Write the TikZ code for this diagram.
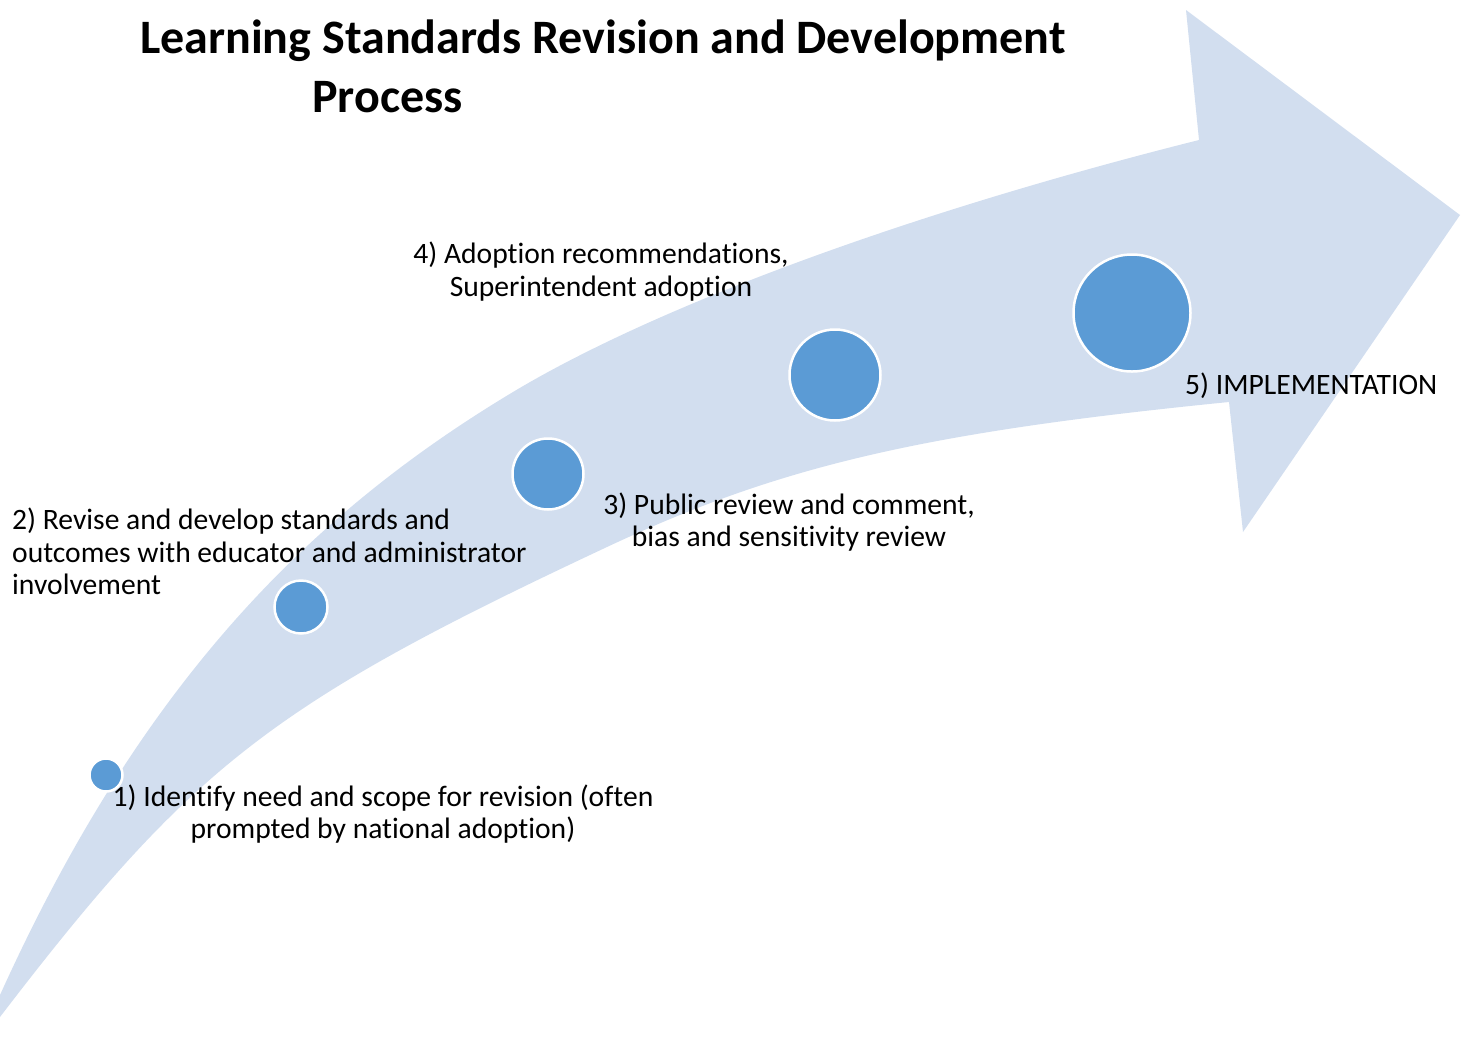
\documentclass[tikz,border=0pt]{standalone}
\usepackage{fontspec}
\setmainfont[Ligatures=NoCommon]{Carlito}
\definecolor{arrowfill}{RGB}{210,222,239}
\definecolor{dotblue}{RGB}{91,155,213}
\begin{document}
\begin{tikzpicture}[x=1pt,y=-1pt,
  dot/.style={circle,fill=dotblue,draw=white,line width=2.5pt,inner sep=0pt},
  lbl/.style={inner sep=0pt,font=\fontsize{29.6}{32.5}\selectfont},
  ttl/.style={inner sep=0pt,font=\fontsize{48}{59}\selectfont\bfseries}]
\useasboundingbox (0,0) rectangle (1468,1053);
\clip (0,0) rectangle (1468,1053);
% big curved arrow
\fill[arrowfill]
  (-10,1030) -- (0,1017)
  .. controls (193,765) and (272,704) .. (607,547)
  .. controls (779.5,466) and (922,432.6) .. (1229,402)
  -- (1243,532) -- (1460,215) -- (1186,10) -- (1199,140)
  .. controls (912,212) and (658,305) .. (513,392)
  .. controls (303,518) and (138,690) .. (0,995)
  -- (-10,1015) -- cycle;
% dots
\node[dot,minimum size=33pt] (d1) at (106,775) {};
\node[dot,minimum size=53pt] (d2) at (301,607) {};
\node[dot,minimum size=71pt] (d3) at (548,474) {};
\node[dot,minimum size=91pt] (d4) at (835,375) {};
\node[dot,minimum size=117pt] (d5) at (1132,313) {};
% labels
\node[ttl,align=left,anchor=north west] (title) at (140,20) {Learning Standards Revision and Development\\\hspace*{172pt}Process};
\node[lbl,align=center] (l1) at (383,814) {1) Identify need and scope for revision (often\\prompted by national adoption)};
\node[lbl,align=left,anchor=west] (l2) at (12,551.5) {2) Revise and develop standards and\\outcomes with educator and administrator\\involvement};
\node[lbl,align=center] (l3) at (789,522) {3) Public review and comment,\\bias and sensitivity review};
\node[lbl,align=center] (l4) at (601,271.5) {4) Adoption recommendations,\\Superintendent adoption};
\node[lbl,anchor=west] (l5) at (1185,386) {5) IMPLEMENTATION};
\end{tikzpicture}
\end{document}
